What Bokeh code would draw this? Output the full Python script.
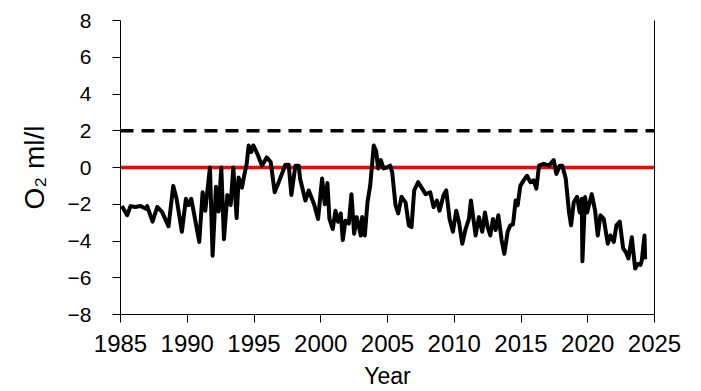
from bokeh.plotting import figure
from bokeh.models import Range1d, FixedTicker, Span, LinearAxis
from bokeh.embed import file_html
from bokeh.resources import INLINE

# ---- data ----
years = [1985.1, 1985.5, 1985.75, 1986.1, 1986.5, 1986.9, 1987.0, 1987.4, 1987.75, 1988.1,
         1988.6, 1988.95, 1989.2, 1989.6, 1989.9, 1990.1, 1990.3, 1990.9, 1991.15, 1991.35,
         1991.7, 1991.9, 1992.15, 1992.35, 1992.55, 1992.75, 1993.0, 1993.25, 1993.45, 1993.7,
         1993.85, 1994.1, 1994.25, 1994.45, 1994.6, 1994.8, 1994.95, 1995.25, 1995.6, 1995.95,
         1996.25, 1996.55, 1996.85, 1997.35, 1997.6, 1997.8, 1998.1, 1998.35, 1998.45, 1998.85,
         1999.1, 1999.5, 1999.8, 2000.1, 2000.3, 2000.5, 2000.65, 2000.9, 2001.1, 2001.3,
         2001.5, 2001.65, 2001.85, 2002.1, 2002.3, 2002.5, 2002.7, 2003.0, 2003.1, 2003.3,
         2003.5, 2003.7, 2003.85, 2003.97, 2004.15, 2004.3, 2004.5, 2004.7, 2004.95, 2005.2,
         2005.35, 2005.6, 2005.8, 2006.05, 2006.35, 2006.6, 2006.8, 2007.0, 2007.3, 2007.6,
         2007.85, 2008.2, 2008.45, 2008.7, 2008.9, 2009.2, 2009.4, 2009.65, 2009.9, 2010.15,
         2010.35, 2010.6, 2010.85, 2011.1, 2011.25, 2011.4, 2011.6, 2011.85, 2012.1, 2012.3,
         2012.5, 2012.7, 2012.9, 2013.1, 2013.3, 2013.55, 2013.75, 2014.0, 2014.2, 2014.4,
         2014.6, 2014.75, 2014.95, 2015.2, 2015.45, 2015.7, 2015.95, 2016.15, 2016.35, 2016.7,
         2017.1, 2017.45, 2017.65, 2017.9, 2018.1, 2018.35, 2018.6, 2018.75, 2018.95, 2019.2,
         2019.4, 2019.55, 2019.6, 2019.8, 2019.95, 2020.3, 2020.55, 2020.75, 2020.95, 2021.2,
         2021.5, 2021.7, 2021.95, 2022.15, 2022.4, 2022.65, 2022.85, 2023.05, 2023.3, 2023.55,
         2023.75, 2023.95, 2024.05, 2024.25, 2024.3]
o2 = [-2.1, -2.6, -2.1, -2.15, -2.1, -2.25, -2.1, -2.95, -2.15, -2.4,
      -3.2, -1.0, -1.7, -3.5, -1.7, -2.05, -1.7, -4.05, -1.35, -2.35,
      0.0, -4.8, -1.05, -2.4, 0.0, -3.9, -1.5, -2.05, 0.0, -2.75,
      -0.55, -1.1, -0.5, 0.2, 1.2, 0.85, 1.2, 0.75, 0.1, 0.55,
      0.3, -1.35, -0.8, 0.15, 0.15, -1.5, 0.1, 0.1, -0.6, -1.8,
      -1.25, -2.0, -2.8, -0.6, -2.0, -0.85, -2.8, -3.35, -2.35, -2.95,
      -2.5, -3.95, -2.9, -3.05, -1.45, -3.6, -2.7, -3.7, -2.7, -3.7,
      -1.9, -1.0, 0.2, 1.2, 0.9, -0.05, 0.4, -0.05, 0.0, 0.1,
      -0.25, -2.05, -2.5, -1.6, -1.9, -3.15, -3.25, -1.25, -0.8, -1.15,
      -1.45, -1.35, -2.15, -1.8, -2.35, -1.5, -1.25, -2.8, -3.5, -2.35,
      -2.95, -4.15, -3.35, -2.8, -1.8, -2.6, -3.7, -2.7, -3.5, -2.45,
      -3.25, -3.7, -2.8, -3.4, -2.6, -3.95, -4.7, -3.5, -3.15, -3.1,
      -1.8, -2.05, -1.0, -0.7, -0.45, -0.8, -0.7, -1.15, 0.1, 0.2,
      0.1, 0.4, -0.35, 0.1, 0.1, -0.6, -2.45, -3.15, -1.9, -1.6,
      -2.45, -1.7, -5.1, -1.6, -2.45, -1.45, -2.35, -3.7, -2.6, -2.8,
      -4.15, -3.7, -4.05, -3.15, -2.95, -4.4, -4.6, -4.95, -3.8, -5.5,
      -5.25, -5.3, -5.05, -3.7, -5.0]

x_ticks = [1985, 1990, 1995, 2000, 2005, 2010, 2015, 2020, 2025]
y_ticks = [-8, -6, -4, -2, 0, 2, 4, 6, 8]
y_tick_labels = ["\u22128", "\u22126", "\u22124", "\u22122", "0", "2", "4", "6", "8"]
zero_line = 0
hypoxia_line = 2
x_label = "Year"
y_label = "O\u2082 ml/l"

FONT = "Liberation Sans"

p = figure(width=701, height=391, output_backend="svg", toolbar_location=None,
           x_range=Range1d(1985, 2025), y_range=Range1d(-8, 8),
           min_border_left=120, min_border_right=47, min_border_top=20, min_border_bottom=76)
p.outline_line_color = None
p.grid.visible = False
p.background_fill_color = "white"
p.border_fill_color = "white"

p.add_layout(Span(location=zero_line, dimension="width", line_color="#ff0000",
                  line_width=3.5, level="underlay"))
p.add_layout(Span(location=hypoxia_line, dimension="width", line_color="black",
                  line_width=3.5, line_dash="13 8", level="underlay"))

p.line(years, o2, line_color="black", line_width=4, line_join="round")

p.xaxis.ticker = FixedTicker(ticks=x_ticks)
p.yaxis.ticker = FixedTicker(ticks=y_ticks)
p.yaxis.major_label_overrides = {t: l for t, l in zip(y_ticks, y_tick_labels)}

for ax in (p.xaxis[0], p.yaxis[0]):
    ax.axis_line_color = "black"
    ax.axis_line_width = 1
    ax.major_tick_line_color = "black"
    ax.major_tick_line_width = 1
    ax.major_tick_out = 8
    ax.major_tick_in = 0
    ax.minor_tick_line_color = None
    ax.major_label_text_font = FONT
    ax.major_label_text_color = "black"
    ax.axis_label_text_font = FONT
    ax.axis_label_text_font_style = "normal"
    ax.axis_label_text_color = "black"

p.xaxis.major_label_text_font_size = "24px"
p.xaxis.axis_label = x_label
p.xaxis.axis_label_text_font_size = "23px"
p.xaxis.major_label_standoff = 12
p.xaxis.axis_label_standoff = 8

p.yaxis.major_label_text_font_size = "21px"
p.yaxis.axis_label = y_label
p.yaxis.axis_label_text_font_size = "28px"
p.yaxis.major_label_standoff = 21
p.yaxis.axis_label_standoff = 15

right = LinearAxis(axis_line_color="black", axis_line_width=1,
                   major_tick_line_color=None, minor_tick_line_color=None,
                   major_label_text_font_size="0px")
p.add_layout(right, "right")

open("out.html", "w").write(file_html(p, INLINE))
